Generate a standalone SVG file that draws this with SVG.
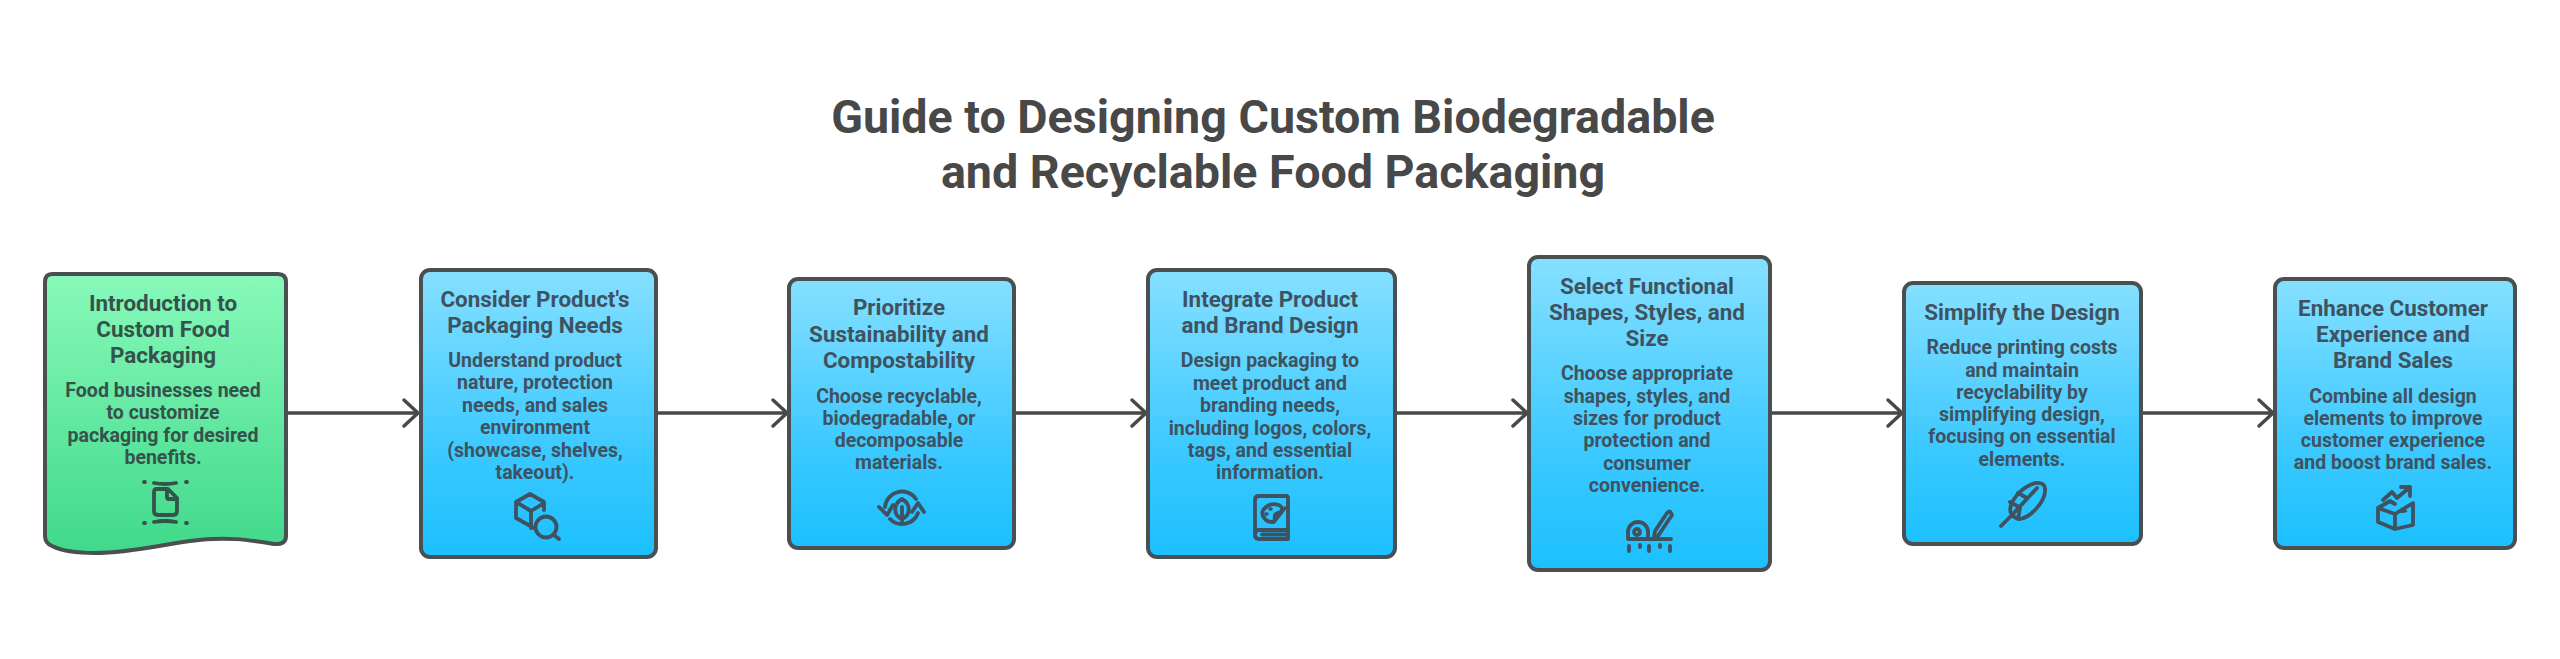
<svg xmlns="http://www.w3.org/2000/svg" width="2560" height="659" viewBox="0 0 2560 659">
<style>
text{font-family:Roboto,"Liberation Sans",sans-serif;text-anchor:middle}
.title{font-size:46.6px;font-weight:700;fill:#484848}
.h{font-size:22.4px;font-weight:700;fill:#3f5260}
.b{font-size:19.5px;font-weight:700;fill:#3f5260}
.g .h,.g .b{fill:#35524b}
.box{stroke:#4a4f52;stroke-width:4;fill:url(#blue)}
.conn{stroke:#484848;stroke-width:3.5;fill:none;marker-end:url(#arr)}
.ic{fill:none;stroke:#3f5260;stroke-width:3.8;stroke-linecap:round;stroke-linejoin:round}
</style>
<defs>
<linearGradient id="blue" x1="0" y1="0" x2="0" y2="1"><stop offset="0" stop-color="#86e0ff"/><stop offset="0.65" stop-color="#39c8ff"/><stop offset="1" stop-color="#1cc0ff"/></linearGradient>
<linearGradient id="green" x1="0" y1="0" x2="0" y2="1"><stop offset="0" stop-color="#88f9ba"/><stop offset="1" stop-color="#40d98a"/></linearGradient>
<marker id="arr" markerUnits="userSpaceOnUse" markerWidth="20" markerHeight="32" refX="16" refY="16" orient="auto" overflow="visible"><path d="M2 3L16 16L2 29" fill="none" stroke="#484848" stroke-width="3.5" stroke-linecap="round" stroke-linejoin="round"/></marker>
</defs>
<rect width="2560" height="659" fill="#fff"/>
<g id="title">
<text class="title" x="1273" y="133">Guide to Designing Custom Biodegradable</text>
<text class="title" x="1273" y="188">and Recyclable Food Packaging</text>
</g>
<g id="connectors">
<path class="conn" d="M287 413H418"/>
<path class="conn" d="M656 413H787"/>
<path class="conn" d="M1015 413H1146"/>
<path class="conn" d="M1396 413H1527"/>
<path class="conn" d="M1771 413H1902"/>
<path class="conn" d="M2142 413H2273"/>
</g>
<g id="node1" class="g">
<path d="M52 274H278Q286 274 286 282V536Q286 545 274 544C250 540 225 536 190 541C160 545 130 553 95 553C75 553 60 550 52 546Q45 543 45 536V282Q45 274 52 274Z" stroke="#4a4f52" stroke-width="4" fill="url(#green)"/>
<text class="h" x="163" y="311">Introduction to</text>
<text class="h" x="163" y="337">Custom Food</text>
<text class="h" x="163" y="363">Packaging</text>
<text class="b" x="163" y="397">Food businesses need</text>
<text class="b" x="163" y="419">to customize</text>
<text class="b" x="163" y="442">packaging for desired</text>
<text class="b" x="163" y="464">benefits.</text>
<g class="ic" style="stroke:#35524b">
<path d="M157 489H168L177 498V511Q177 515 173 515H158Q154 515 154 511V492Q154 489 157 489ZM167 490V497Q167 499 169 499H176"/>
<path d="M154 483Q165 485 176 483M154 522Q165 520 176 522"/>
<path d="M144 482h1M186 482h1M144 523h1M186 523h1"/>
</g>
</g>
<g id="node2">
<rect class="box" x="421" y="270" width="235" height="287" rx="9"/>
<text class="h" x="535" y="307">Consider Product's</text>
<text class="h" x="535" y="333">Packaging Needs</text>
<text class="b" x="535" y="367">Understand product</text>
<text class="b" x="535" y="389">nature, protection</text>
<text class="b" x="535" y="412">needs, and sales</text>
<text class="b" x="535" y="434">environment</text>
<text class="b" x="535" y="457">(showcase, shelves,</text>
<text class="b" x="535" y="479">takeout).</text>
<g class="ic">
<path d="M534 528L516 518V502L530 494L544 502V510M516 502L531 511L544 503M531 511V528"/>
<circle cx="546" cy="527" r="10.500"/>
<path d="M554 535L559 539"/>
</g>
</g>
<g id="node3">
<rect class="box" x="789" y="279" width="225" height="269" rx="9"/>
<text class="h" x="899" y="315">Prioritize</text>
<text class="h" x="899" y="342">Sustainability and</text>
<text class="h" x="899" y="368">Compostability</text>
<text class="b" x="899" y="403">Choose recyclable,</text>
<text class="b" x="899" y="425">biodegradable, or</text>
<text class="b" x="899" y="447">decomposable</text>
<text class="b" x="899" y="469">materials.</text>
<g class="ic">
<path d="M885 507A17 17 0 0 1 916 499M918 513A17 17 0 0 1 890 519"/>
<path d="M879 507L887 515L893 505M912 512L918 503L924 512"/>
<path d="M902 499C911 504 911 515 902 519C893 515 893 504 902 499ZM902 507V523"/>
</g>
</g>
<g id="node4">
<rect class="box" x="1148" y="270" width="247" height="287" rx="9"/>
<text class="h" x="1270" y="307">Integrate Product</text>
<text class="h" x="1270" y="333">and Brand Design</text>
<text class="b" x="1270" y="367">Design packaging to</text>
<text class="b" x="1270" y="390">meet product and</text>
<text class="b" x="1270" y="412">branding needs,</text>
<text class="b" x="1270" y="435">including logos, colors,</text>
<text class="b" x="1270" y="457">tags, and essential</text>
<text class="b" x="1270" y="479">information.</text>
<g class="ic">
<path d="M1259 496H1286Q1288 496 1288 498V539H1259Q1255 539 1255 535V500Q1255 496 1259 496ZM1255 534Q1255 530 1259 530H1288M1262 534.500H1288"/>
<path d="M1266 507C1272 502 1283 504 1282 510C1281 514 1276 512 1275 515C1274 519 1276 522 1272 522C1265 522 1258 513 1266 507Z"/>
<path d="M1274 522L1285 508M1270 509l1 0M1266 514l1 0" stroke-width="3.500"/>
</g>
</g>
<g id="node5">
<rect class="box" x="1529" y="257" width="241" height="313" rx="9"/>
<text class="h" x="1647" y="294">Select Functional</text>
<text class="h" x="1647" y="320">Shapes, Styles, and</text>
<text class="h" x="1647" y="346">Size</text>
<text class="b" x="1647" y="380">Choose appropriate</text>
<text class="b" x="1647" y="403">shapes, styles, and</text>
<text class="b" x="1647" y="425">sizes for product</text>
<text class="b" x="1647" y="447">protection and</text>
<text class="b" x="1647" y="470">consumer</text>
<text class="b" x="1647" y="492">convenience.</text>
<g class="ic">
<path d="M1628 539V532A10 10 0 0 1 1648 532V539M1628 539H1671"/>
<circle cx="1637" cy="532" r="3"/>
<path d="M1655 531L1667 513Q1670 510 1671 513Q1673 515 1670 518L1658 536L1654 537Z"/>
<path d="M1629 546V551M1640 545V547M1649 546V551M1660 545V547M1670 546V551"/>
</g>
</g>
<g id="node6">
<rect class="box" x="1904" y="283" width="237" height="261" rx="9"/>
<text class="h" x="2022" y="320">Simplify the Design</text>
<text class="b" x="2022" y="354">Reduce printing costs</text>
<text class="b" x="2022" y="377">and maintain</text>
<text class="b" x="2022" y="399">recyclability by</text>
<text class="b" x="2022" y="421">simplifying design,</text>
<text class="b" x="2022" y="443">focusing on essential</text>
<text class="b" x="2022" y="466">elements.</text>
<g class="ic">
<path d="M2001 526L2012 515C2006 507 2017 491 2030 485C2038 481 2045 483 2045 489C2046 500 2032 517 2020 519C2017 519 2014 517 2012 515"/>
<path d="M2012 515L2037 488M2010 502L2019 507M2018 493L2027 498M2018 519L2020 508"/>
</g>
</g>
<g id="node7">
<rect class="box" x="2275" y="279" width="240" height="269" rx="9"/>
<text class="h" x="2393" y="316">Enhance Customer</text>
<text class="h" x="2393" y="342">Experience and</text>
<text class="h" x="2393" y="368">Brand Sales</text>
<text class="b" x="2393" y="403">Combine all design</text>
<text class="b" x="2393" y="425">elements to improve</text>
<text class="b" x="2393" y="447">customer experience</text>
<text class="b" x="2393" y="469">and boost brand sales.</text>
<g class="ic">
<path d="M2378 508L2395 514L2413 503V525L2395 529L2378 522ZM2395 514V529M2378 508L2390 501L2395 504"/>
<path d="M2402 512L2406 511" stroke-width="2.500"/>
<path d="M2383 500L2392 492L2397 498L2409 488M2401 487H2410V496"/>
</g>
</g>
</svg>
